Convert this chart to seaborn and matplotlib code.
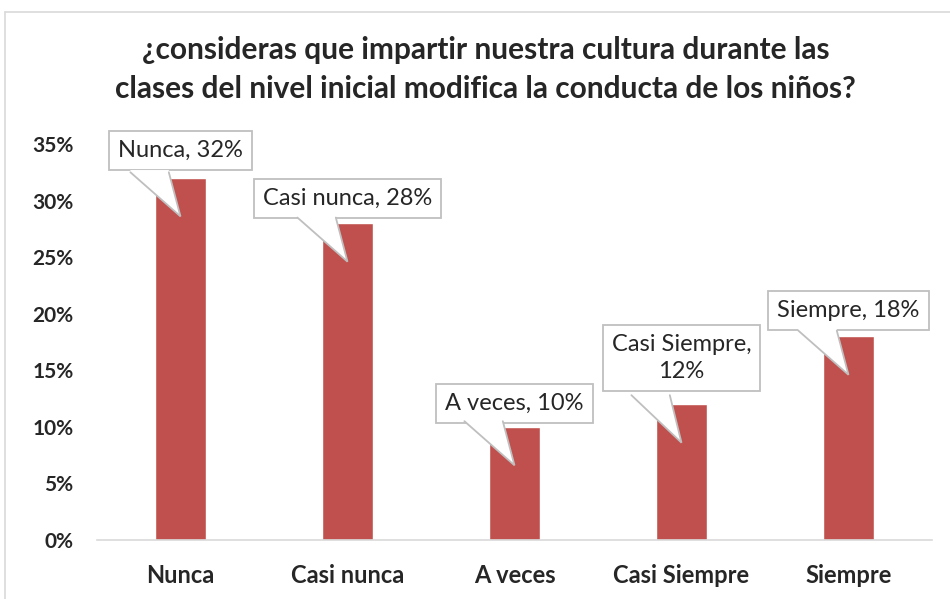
import matplotlib
matplotlib.use("Agg")
import matplotlib.pyplot as plt
import seaborn as sns
import pandas as pd
from matplotlib.lines import Line2D
from matplotlib.patches import Polygon

categories = ["Nunca", "Casi nunca", "A veces", "Casi Siempre", "Siempre"]
values = [0.32, 0.28, 0.10, 0.12, 0.18]
callout_texts = ["Nunca, 32%", "Casi nunca, 28%", "A veces, 10%", "Casi Siempre,\n12%", "Siempre, 18%"]
ytick_values = [0, 0.05, 0.10, 0.15, 0.20, 0.25, 0.30, 0.35]
title = "¿consideras que impartir nuestra cultura durante las\nclases del nivel inicial modifica la conducta de los niños?"

sns.set_theme(style="white")
plt.rcParams["font.family"] = ["Lato", "DejaVu Sans"]

df = pd.DataFrame({"categoria": categories, "valor": values})

fig = plt.figure(figsize=(9.5, 5.99), dpi=100)
ax = fig.add_axes([97 / 950, 59 / 599, 835 / 950, 396 / 599])

sns.barplot(data=df, x="categoria", y="valor", color="#c0504d", width=0.31,
            saturation=1, ax=ax)

ax.set_ylim(0, 0.35)
ax.set_xlim(-0.5, len(categories) - 0.5)
ax.set_yticks(ytick_values)
ax.set_yticklabels(["{:.0f}%".format(v * 100) for v in ytick_values],
                   fontsize=15, fontweight="bold")
ax.set_xticklabels(categories, fontsize=17, fontweight="bold")
ax.tick_params(axis="both", length=0)
ax.tick_params(axis="x", pad=17)
ax.tick_params(axis="y", pad=17)
ax.set_xlabel("")
ax.set_ylabel("")
for side in ["top", "right", "left"]:
    ax.spines[side].set_visible(False)
ax.spines["bottom"].set_color("#d9d9d9")
ax.spines["bottom"].set_linewidth(1.2)

# callouts: box + pointer towards the bar
edge = "#bfbfbf"
box_offsets = [0.024, 0.022, 0.021, 0.041, 0.023]
box_bottoms = [0.005, 0.005, 0.005, 0.008, 0.005]
for i, (v, txt) in enumerate(zip(values, callout_texts)):
    ax.annotate(txt, xy=(i, v + box_offsets[i]), ha="center", va="center",
                fontsize=17, multialignment="center", linespacing=1.35,
                bbox=dict(boxstyle="square,pad=0.38", fc="white", ec=edge, lw=1.3),
                zorder=5)
    yb = v + box_bottoms[i]
    pointer = Polygon([(i - 0.30, yb + 0.002), (i - 0.30, yb), (i, v - 0.034),
                       (i - 0.07, yb), (i - 0.07, yb + 0.002)],
                      closed=False, fc="white", ec="none", zorder=6)
    ax.add_patch(pointer)
    ax.plot([i - 0.30, i, i - 0.07], [yb, v - 0.034, yb], color=edge, lw=1.3,
            zorder=7, solid_joinstyle="miter")

fig.text(0.511, 0.884, title, ha="center", va="center", fontsize=21.5,
         fontweight="bold", linespacing=1.5)

# chart area border
fig.add_artist(Line2D([4.5 / 950, 4.5 / 950], [0, 1 - 12 / 599], color="#d9d9d9", lw=1.2))
fig.add_artist(Line2D([4.5 / 950, 1], [1 - 12 / 599, 1 - 12 / 599], color="#d9d9d9", lw=1.2))

fig.savefig("out.png", dpi=100, facecolor="white")
